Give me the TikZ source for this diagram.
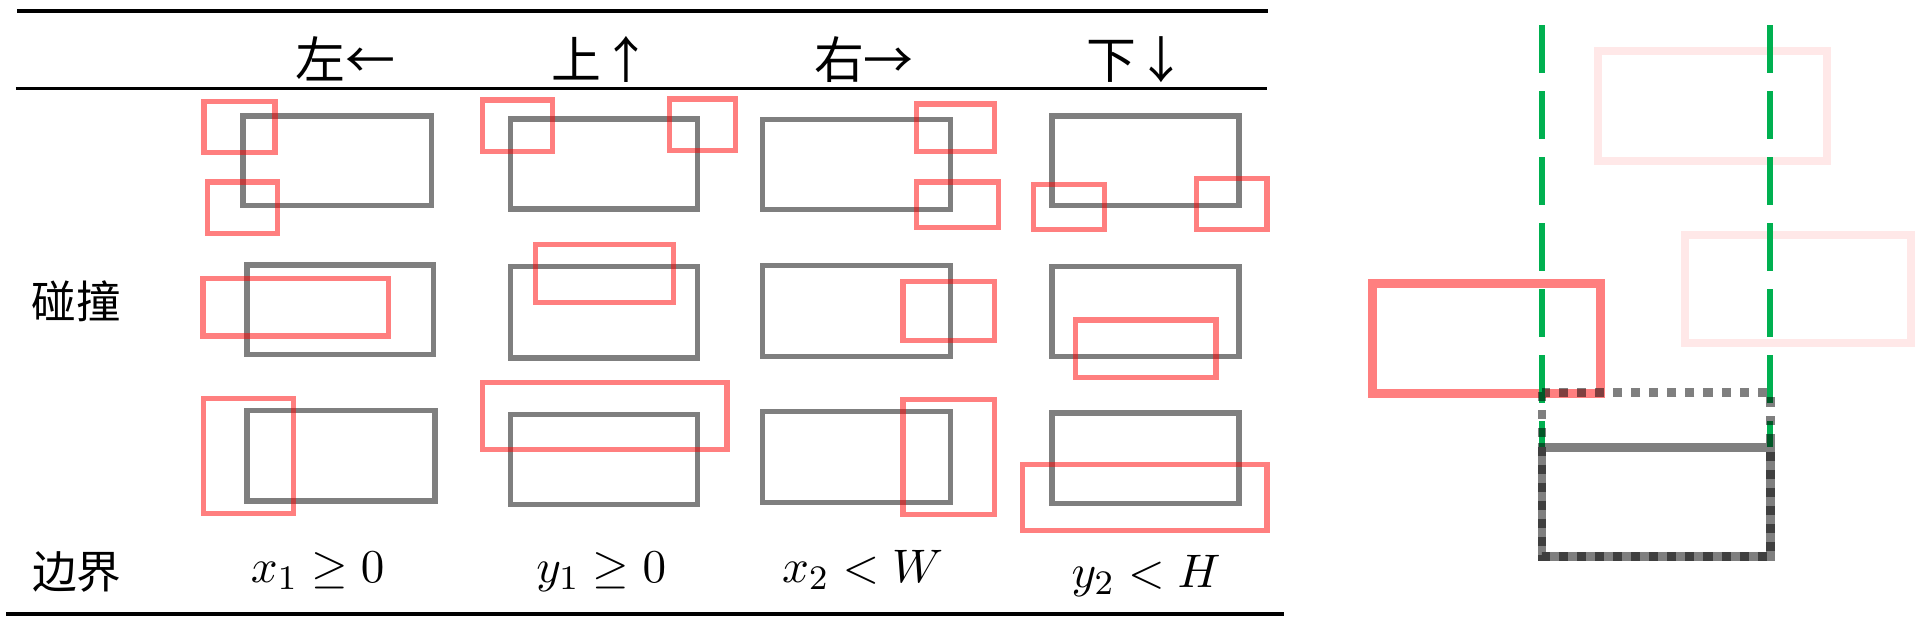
\documentclass[tikz,border=0pt]{standalone}
\usepackage{fontspec}
\newfontfamily\cjk{Noto Sans CJK SC}
\definecolor{dgreen}{HTML}{00B050}
\begin{document}
\begin{tikzpicture}[x=0.01cm,y=-0.01cm,
  toprule/.style={line width=0.03cm},
  botrule/.style={line width=0.035cm},
  gbox/.style={draw=black,draw opacity=0.5,line width=0.044cm},
  rbox/.style={draw=red,draw opacity=0.5,line width=0.044cm},
  bigred/.style={draw=red,draw opacity=0.5,line width=0.072cm},
  pinkbox/.style={draw=red,draw opacity=0.09,line width=0.065cm},
  greendash/.style={draw=dgreen,line width=0.052cm,dash pattern=on 0.39cm off 0.15cm},
  graysolid/.style={draw=black,draw opacity=0.5,line width=0.072cm},
  graydot/.style={draw=black,draw opacity=0.5,line width=0.072cm,dash pattern=on 0.074cm off 0.074cm},
  hdr/.style={inner sep=0pt,font=\cjk\fontsize{11.6}{14}\selectfont},
  lbl/.style={inner sep=0pt,font=\cjk\fontsize{10.4}{12}\selectfont},
  mth/.style={inner sep=0pt,font=\fontsize{11}{13}\selectfont}]
\useasboundingbox (0,0) rectangle (1568,507);

% table rules
\coordinate (t1) at (14,9);    \coordinate (t2) at (1038,9);
\coordinate (m1) at (13,72.5); \coordinate (m2) at (1037,72.5);
\coordinate (b1) at (5,502.5); \coordinate (b2) at (1051,502.5);
\draw[toprule] (t1) -- (t2);
\draw[toprule] (m1) -- (m2);
\draw[botrule] (b1) -- (b2);

% header
\node[hdr,anchor=base] (h1) at (283,64) {左←};
\node[hdr,anchor=base] (h2) at (492,64) {上↑};
\node[hdr,anchor=base] (h3) at (707,64) {右→};
\node[hdr,anchor=base] (h4) at (930,64) {下↓};

% row labels
\node[lbl,anchor=base] (l1) at (62.5,260.5) {碰撞};
\node[lbl,anchor=base] (l2) at (63,482) {边界};

% bottom conditions
\node[mth,anchor=base] (c1) at (260,477) {$x_1\geq 0$};
\node[mth,anchor=base] (c2) at (492,477) {$y_1\geq 0$};
\node[mth,anchor=base] (c3) at (706,477) {$x_2<W$};
\node[mth,anchor=base] (c4) at (938,481) {$y_2<H$};

% gray boxes
\draw[gbox] (199,95) rectangle (353,168);
\draw[gbox] (202,217) rectangle (355,290);
\draw[gbox] (202,336) rectangle (356,410);
\draw[gbox] (418,97.5) rectangle (571,171);
\draw[gbox] (418,218) rectangle (571,293);
\draw[gbox] (418,339) rectangle (571,413);
\draw[gbox] (624,98) rectangle (778,171.5);
\draw[gbox] (624,217.5) rectangle (778,292);
\draw[gbox] (624,337) rectangle (778,411);
\draw[gbox] (861,95) rectangle (1014,168);
\draw[gbox] (861,218) rectangle (1014,292);
\draw[gbox] (861,338) rectangle (1014,412);

% red boxes
\draw[rbox] (167,83) rectangle (225,125);
\draw[rbox] (170,149) rectangle (227,191);
\draw[rbox] (166,228) rectangle (318,275);
\draw[rbox] (166.5,326) rectangle (240,420);
\draw[rbox] (395,82) rectangle (452,124);
\draw[rbox] (548,81) rectangle (602,123);
\draw[rbox] (438,200) rectangle (551,247.6);
\draw[rbox] (395,313) rectangle (595,368);
\draw[rbox] (750,85) rectangle (814,124);
\draw[rbox] (750,149) rectangle (817,186);
\draw[rbox] (739,230.6) rectangle (814,278.5);
\draw[rbox] (739,327) rectangle (814,421);
\draw[rbox] (846,151) rectangle (904,188);
\draw[rbox] (979,146) rectangle (1037,188);
\draw[rbox] (880,262) rectangle (995,309);
\draw[rbox] (837,380) rectangle (1037,434);

% right panel
\draw[pinkbox] (1308,42) rectangle (1495,132);
\draw[pinkbox] (1379,192) rectangle (1564,281);
\draw[bigred] (1123,232) rectangle (1310,322);
\coordinate (g1a) at (1262,20.5);   \coordinate (g1b) at (1262,365.5);
\coordinate (g2a) at (1448.5,20.5); \coordinate (g2b) at (1448.5,365.5);
\draw[greendash] (g1a) -- (g1b);
\draw[greendash] (g2a) -- (g2b);
\draw[graysolid] (1262,366) rectangle (1449,455.5);
\draw[graydot] (1262,321) rectangle (1449,455.5);
\end{tikzpicture}
\end{document}
